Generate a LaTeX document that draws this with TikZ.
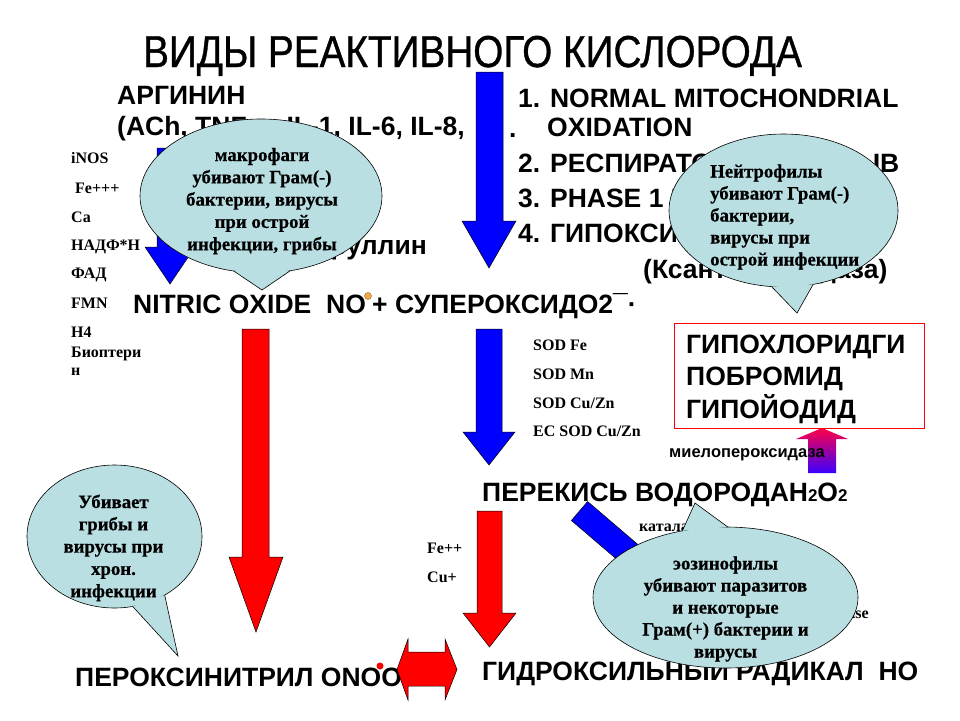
\documentclass[tikz,border=0pt]{standalone}
\usepackage{fontspec}
\usepackage{graphicx}
\setmainfont{Liberation Serif}
\newfontfamily\arialf{Liberation Sans}
\newfontfamily\titlef{Liberation Sans}[FakeBold=0.9]
\newfontfamily\calf{Liberation Serif}[BoldFeatures={FakeBold=0.5}]
\usetikzlibrary{calc}
\definecolor{callfill}{RGB}{185,223,227}
\definecolor{dotorange}{RGB}{245,170,70}
\definecolor{dotedge}{RGB}{150,100,40}
\newcommand\BlkDown[8]{\draw[#1] (#2,#4) -- (#3,#4) -- (#3,#7) -- (#6,#7) -- ({(#5+#6)/2},#8) -- (#5,#7) -- (#2,#7) -- cycle;}
\newcommand\CallBubble[8]{%
 \coordinate (#1c) at (#2,#3);
 \coordinate (#1a) at ($(#1c)+(#6:#4 and #5)$);
 \coordinate (#1b) at ($(#1c)+(#7:#4 and #5)$);
 \coordinate (#1t) at (#8);
 \filldraw[callbody] (#1c) ellipse [x radius=#4, y radius=#5];
 \fill[callfill] (#1a) -- (#1t) -- (#1b) -- cycle;
 \draw[line width=0.6pt,line join=miter] (#1a) -- (#1t) -- (#1b);}
\begin{document}
\begin{tikzpicture}[x=1pt,y=-1pt,
 big/.style={font=\arialf\bfseries\fontsize{26.5}{30}\selectfont,inner sep=0pt,anchor=base west},
 sm/.style={font=\bfseries\fontsize{16}{19}\selectfont,inner sep=0pt,anchor=base west},
 callt/.style={font=\calf\bfseries\fontsize{18.8}{22}\selectfont,inner sep=0pt,anchor=base},
 calltl/.style={callt,anchor=base west},
 bluearr/.style={fill=blue,draw=black,line width=0.5pt},
 redarr/.style={fill=red,draw=black,line width=0.5pt},
 callbody/.style={fill=callfill,draw=black,line width=0.6pt}]
\useasboundingbox (0,0) rectangle (960,720);
\fill[white] (0,0) rectangle (960,720);

% title
\node[font=\titlef\fontsize{44.7}{50}\selectfont,inner sep=0pt,anchor=base] (title) at (472.5,67) {\scalebox{0.866}[1]{ВИДЫ РЕАКТИВНОГО КИСЛОРОДА}};

% block arrows
\BlkDown{bluearr}{476}{503}{72}{462}{516}{221}{268}
\BlkDown{bluearr}{157}{184}{148}{145}{195}{247}{284}
\BlkDown{bluearr}{476}{502}{329}{463}{515}{432}{465}
\BlkDown{redarr}{242}{269}{329}{229}{283}{557}{632}
\BlkDown{redarr}{477}{502}{511}{463}{516}{613}{647}
\shade[top color={rgb,255:red,255;green,0;blue,70},middle color={rgb,255:red,190;green,0;blue,190},bottom color={rgb,255:red,60;green,0;blue,255}]
 (808,473) -- (836,473) -- (836,439) -- (848,439) -- (822,428) -- (796,439) -- (808,439) -- cycle;
\draw[bluearr] (571.4,520.5) -- (587.6,501.5) -- (678.8,579.5) -- (688.3,568.5) -- (704.9,618.3) -- (653.1,609.5) -- (662.6,598.5) -- cycle;

% red box
\draw[red,line width=0.8pt,fill=white] (674,323) rectangle (924,428);

% left small list
\node[sm] (inos) at (71,163) {iNOS};
\node[sm] (fe3) at (75,193) {Fe+++};
\node[sm] (ca) at (71,222) {Ca};
\node[sm] (nadf) at (71,250) {НАДФ*Н};
\node[sm] (fad) at (71,278) {ФАД};
\node[sm] (fmn) at (71,308) {FMN};
\node[sm] (h4) at (71,337) {Н4};
\node[sm] (biop) at (71,357) {Биоптери};
\node[sm] (biop2) at (71,375) {н};

% SOD list
\node[sm] (sod1) at (533,350) {SOD Fe};
\node[sm] (sod2) at (533,379) {SOD Mn};
\node[sm] (sod3) at (533,408) {SOD Cu/Zn};
\node[sm] (sod4) at (533,436) {EC SOD Cu/Zn};
\node[sm] (fe2) at (427,553) {Fe++};
\node[sm] (cu) at (427,582) {Cu+};
\node[sm] (katal) at (639,531) {каталаза};
\node[sm,anchor=base east] (gpx) at (869,618) {Glutathione peroxidase};

% main labels
\node[big] (arg) at (117,104) {АРГИНИН};
\node[big] (arg2) at (117,135) {(ACh, TNF-α, IL-1, IL-6, IL-8,};
\node[big,anchor=base east] (citr) at (427,254) {цитруллин};
\node[big] (nitric) at (133,313) {NITRIC OXIDE};
\node[big] (no) at (326,313) {NO};
\node[big] (superox) at (372,313) {+ СУПЕРОКСИДО2¯·};
\filldraw[fill=dotorange,draw=dotedge,line width=0.4pt] (368,296) circle (3.5);
\node[big] (l1) at (518,107) {1. NORMAL MITOCHONDRIAL};
\node[big] (l1dot) at (509,137) {.};
\node[big] (l1b) at (547,136) {OXIDATION};
\node[big] (l2) at (518,172) {2. РЕСПИРАТОРНЫЙ ВЗРЫВ};
\node[big] (l3) at (518,207) {3. PHASE 1 METABOLISM};
\node[big] (l4) at (518,242) {4. ГИПОКСИЯ РЕПЕРФУЗИЯ};
\node[big] (l4b) at (643,278) {(Ксантиноксидаза)};
\node[big] (hcl) at (686,353) {ГИПОХЛОРИДГИ};
\node[big] (hbr) at (686,385) {ПОБРОМИД};
\node[big] (hi) at (686,418) {ГИПОЙОДИД};
\node[font=\arialf\bfseries\fontsize{16.5}{19}\selectfont,inner sep=0pt,anchor=base west] (mpo) at (669,457) {миелопероксидаза};
\node[big] (h2o2) at (482,501) {ПЕРЕКИСЬ ВОДОРОДАН{\fontsize{17}{17}\selectfont 2}О{\fontsize{17}{17}\selectfont 2}};
\node[big] (oh) at (482,680) {ГИДРОКСИЛЬНЫЙ РАДИКАЛ~~НО};
\node[big] (onoo) at (75,686) {ПЕРОКСИНИТРИЛ ONOO};
\fill[red] (380,666) circle (3.5);
\draw[redarr] (397,669.5) -- (408,639) -- (408,652) -- (445,652) -- (445,639) -- (457,669.5) -- (445,700) -- (445,686) -- (408,686) -- (408,700) -- cycle;

% callouts
\CallBubble{mac}{261}{196}{121}{77}{103}{76}{262,290}
\CallBubble{neu}{783.5}{210.5}{114.5}{76.5}{96}{75}{797,313}
\CallBubble{ubi}{114.5}{536.5}{87.5}{71.5}{78}{55}{178,656}
\CallBubble{eos}{725.5}{597.5}{132.5}{70.5}{-109}{-89}{695,503}

\foreach \l [count=\i] in {макрофаги,{убивают Грам(-)},{бактерии, вирусы},при острой,{инфекции, грибы}}
 \node[callt] (mac\i) at (262,{161+22.3*(\i-1)}) {\l};
\foreach \l [count=\i] in {Нейтрофилы,{убивают Грам(-)},{бактерии,},вирусы при,острой инфекции}
 \node[calltl] (neu\i) at (710,{177.5+22*(\i-1)}) {\l};
\foreach \l [count=\i] in {Убивает,грибы и,вирусы при,хрон.,инфекции}
 \node[callt] (ubi\i) at (113.5,{508+22.3*(\i-1)}) {\l};
\foreach \l [count=\i] in {эозинофилы,убивают паразитов,и некоторые,Грам(+) бактерии и,вирусы}
 \node[callt] (eos\i) at (725.5,{569.5+22*(\i-1)}) {\l};
\end{tikzpicture}
\end{document}
